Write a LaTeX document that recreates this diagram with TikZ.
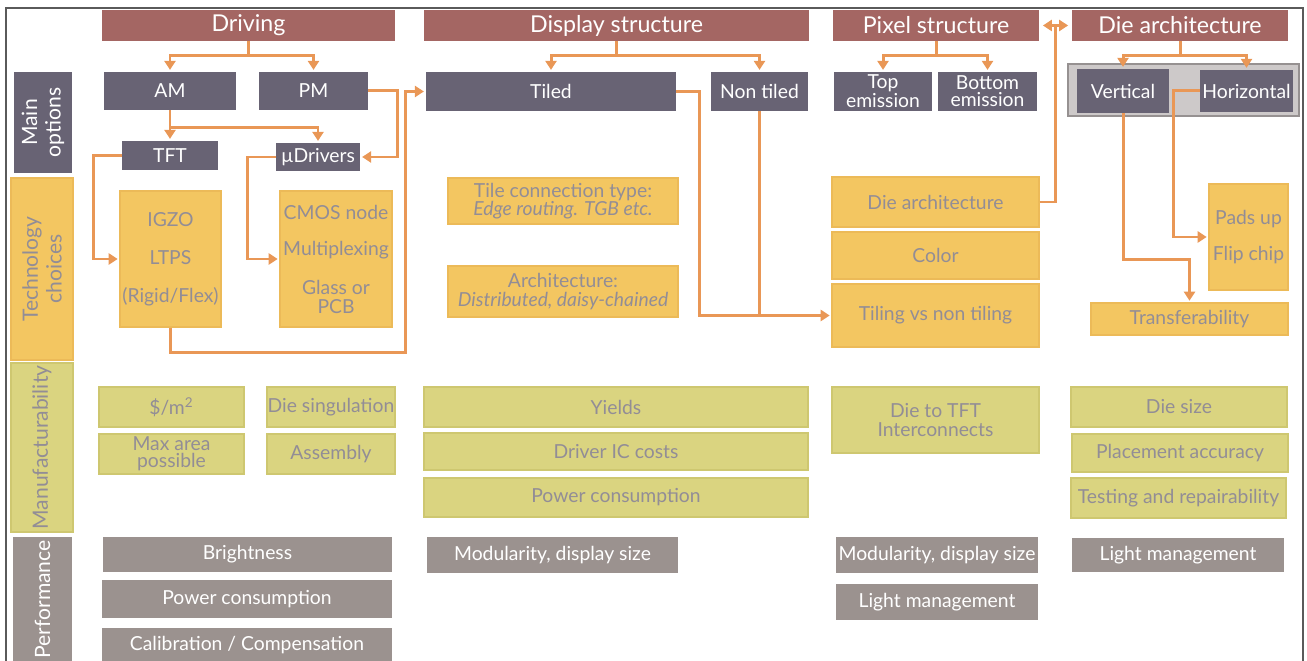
\documentclass[tikz,border=0pt]{standalone}
\usepackage{fontspec}
\setmainfont{Lato}
\usetikzlibrary{arrows.meta,calc}

\definecolor{hdrred}{RGB}{164,102,99}
\definecolor{optslate}{RGB}{104,99,116}
\definecolor{techorange}{RGB}{243,198,97}
\definecolor{techline}{RGB}{236,186,88}
\definecolor{manuolive}{RGB}{218,212,128}
\definecolor{manuline}{RGB}{206,199,112}
\definecolor{perfgray}{RGB}{155,146,143}
\definecolor{txtgray}{RGB}{146,141,150}
\definecolor{arrorange}{RGB}{233,151,86}
\definecolor{contgray}{RGB}{205,201,201}
\definecolor{contline}{RGB}{150,145,145}
\definecolor{framegray}{RGB}{90,90,90}

\tikzset{
  hdr/.style={fill=hdrred, text=white, inner sep=0pt, font=\fontsize{13.2}{13.2}\selectfont},
  opt/.style={fill=optslate, text=white, inner sep=0pt, align=center, font=\fontsize{11}{9.5}\selectfont},
  tech/.style={fill=techorange, draw=techline, line width=0.6pt, text=txtgray, inner sep=0pt, align=center, font=\fontsize{11}{10.5}\selectfont},
  manu/.style={fill=manuolive, draw=manuline, line width=0.6pt, text=txtgray, inner sep=0pt, align=center, font=\fontsize{11}{10.5}\selectfont},
  perf/.style={fill=perfgray, text=white, inner sep=0pt, align=center, font=\fontsize{11}{10.5}\selectfont},
  rowtxt/.style={font=\fontsize{12}{13.5}\selectfont},
  cont/.style={fill=contgray, draw=contline, line width=1pt, inner sep=0pt},
  conn/.style={draw=arrorange, line width=1.7pt},
  arr/.style={conn, -{Triangle[length=0.18cm,width=0.22cm]}, shorten >=1pt},
  arrboth/.style={conn, {Triangle[length=0.18cm,width=0.22cm]}-{Triangle[length=0.18cm,width=0.22cm]}, shorten >=2pt, shorten <=2pt},
}

% box from its corners (pixel units)
\newcommand{\blk}[7]{\node[#2, minimum width={(#5-#3)*0.02cm}, minimum height={(#6-#4)*0.02cm}] (#1) at ({(#3+#5)/2},{(#4+#6)/2}) {#7};}
% rotated row label from its corners
\newcommand{\rowlbl}[7]{\node[#2, rowtxt, rotate=90, minimum width={(#6-#4)*0.02cm}, minimum height={(#5-#3)*0.02cm}] (#1) at ({(#3+#5)/2},{(#4+#6)/2}) {#7};}

\begin{document}
\begin{tikzpicture}[x=0.02cm, y=-0.02cm]
    \useasboundingbox (0,0) rectangle (1307,661);
    % frame
    \draw[framegray, line width=0.8pt] (6,661) -- (6,8) -- (1303,8) -- (1303,661);

    % row labels
    \rowlbl{lmain}{opt}{14}{72}{72}{173}{Main\\options}
    \rowlbl{ltech}{tech}{11}{178}{73}{360}{Technology\\choices}
    \rowlbl{lmanu}{manu}{11}{363}{73}{532}{Manufacturability}
    \rowlbl{lperf}{perf}{13}{537}{72}{662}{Performance}

    % headers
    \blk{drv}{hdr}{102}{10}{395}{41}{Driving}
    \blk{dst}{hdr}{424}{10}{809}{41}{Display structure}
    \blk{pst}{hdr}{833}{10}{1039}{41}{Pixel structure}
    \blk{dar}{hdr}{1072}{10}{1288}{41}{Die architecture}

    % main options
    \blk{am}{opt}{104}{72}{236}{110}{AM}
    \blk{pm}{opt}{259}{72}{368}{110}{PM}
    \blk{tft}{opt}{122}{141}{218}{170}{TFT}
    \blk{mud}{opt}{276}{143}{360}{171}{µDrivers}
    \blk{tiled}{opt}{426}{72}{676}{111}{Tiled}
    \blk{ntiled}{opt}{711}{72}{808}{111}{Non tiled}
    \blk{topem}{opt}{834}{72}{932}{111}{Top\\emission}
    \blk{botem}{opt}{938}{72}{1037}{111}{Bottom\\emission}
    \blk{dabox}{cont}{1068}{64}{1299}{116}{}
    \blk{vert}{opt}{1077}{69}{1169}{113}{Vertical}
    \blk{horiz}{opt}{1200}{70}{1293}{112}{Horizontal}

    % technology choices
    \blk{igzo}{tech}{120}{191}{221}{327}{IGZO\\[11pt]LTPS\\[11pt](Rigid/Flex)}
    \blk{cmos}{tech}{280}{191}{392}{327}{CMOS node\\[10pt]Multiplexing\\[12pt]Glass or\\PCB}
    \blk{tconn}{tech}{448}{178}{678}{224}{Tile connection type:\\\textit{Edge routing. TGB etc.}}
    \blk{tarch}{tech}{448}{266}{678}{317}{Architecture:\\\textit{Distributed, daisy-chained}}
    \blk{datc}{tech}{832}{177}{1039}{227}{Die architecture}
    \blk{color}{tech}{832}{232}{1039}{279}{Color}
    \blk{tiling}{tech}{832}{284}{1039}{347}{Tiling vs non tiling}
    \blk{pads}{tech}{1209}{184}{1288}{290}{Pads up\\[10.5pt]Flip chip}
    \blk{transf}{tech}{1091}{303}{1288}{335}{Transferability}

    % manufacturability
    \blk{cost}{manu}{99}{387}{244}{427}{\$/m\textsuperscript{2}}
    \blk{maxar}{manu}{99}{434}{244}{474}{Max area\\[-1pt]possible}
    \blk{dsing}{manu}{267}{387}{395}{427}{Die singulation}
    \blk{assy}{manu}{267}{434}{395}{474}{Assembly}
    \blk{yld}{manu}{424}{387}{808}{427}{Yields}
    \blk{dric}{manu}{424}{433}{808}{470}{Driver IC costs}
    \blk{pwrm}{manu}{424}{478}{808}{517}{Power consumption}
    \blk{d2t}{manu}{832}{387}{1039}{453}{Die to TFT\\Interconnects}
    \blk{dsize}{manu}{1071}{387}{1287}{427}{Die size}
    \blk{place}{manu}{1072}{434}{1288}{472}{Placement accuracy}
    \blk{test}{manu}{1071}{478}{1286}{518}{Testing and repairability}

    % performance
    \blk{bright}{perf}{103}{537}{392}{572}{Brightness}
    \blk{pwrp}{perf}{102}{580}{392}{618}{Power consumption}
    \blk{calib}{perf}{102}{628}{392}{663}{Calibration / Compensation}
    \blk{modd}{perf}{427}{537}{678}{573}{Modularity, display size}
    \blk{modp}{perf}{836}{537}{1038}{573}{Modularity, display size}
    \blk{lmp}{perf}{836}{584}{1038}{620}{Light management}
    \blk{lmd}{perf}{1072}{538}{1284}{572}{Light management}

    % driving
    \draw[arr] (drv.south) -- ++(0,14) -| (am.north);
    \draw[arr] (drv.south) -- ++(0,14) -| (pm.north);
    \draw[arr] (am.south) -- ++(0,17) -| (tft.north);
    \draw[arr] (am.south) -- ++(0,17) -| (mud.north);
    \draw[arr] (pm.east) -- ++(29,0) |- (mud.east);
    \draw[arr] (tft.west) -- ++(-28,0) |- (igzo.west);
    \draw[arr] (mud.west) -- ++(-28,0) |- (cmos.west);
    \draw[arr] (igzo.south) |- ++(235,25) |- (tiled.west);

    % display structure
    \draw[arr] (dst.south) -- ++(0,14) -| (tiled.north);
    \draw[arr] (dst.south) -- ++(0,14) -| (ntiled.north);
    \draw[arr] (tiled.east) -- ++(23,0) |- (tiling.west);
    \draw[conn] (ntiled.south) -- (ntiled.south |- tiling.west);

    % pixel structure
    \draw[arr] (pst.south) -- ++(0,14) -| (topem.north);
    \draw[arr] (pst.south) -- ++(0,14) -| (botem.north);
    \draw[arrboth] (pst.east) -- (dar.west);
    \draw[conn] (datc.east) -| ($(pst.east)!0.5!(dar.west)$);

    % die architecture
    \draw[arr] (dar.south) -- ++(0,14) -| (vert.north);
    \draw[arr] (dar.south) -- ++(0,14) -| (horiz.north);
    \draw[arr] (vert.south) -- ++(0,146) -| (transf.north);
    \draw[arr] (horiz.west) -- ++(-26,0) |- (pads.west);
\end{tikzpicture}
\end{document}
